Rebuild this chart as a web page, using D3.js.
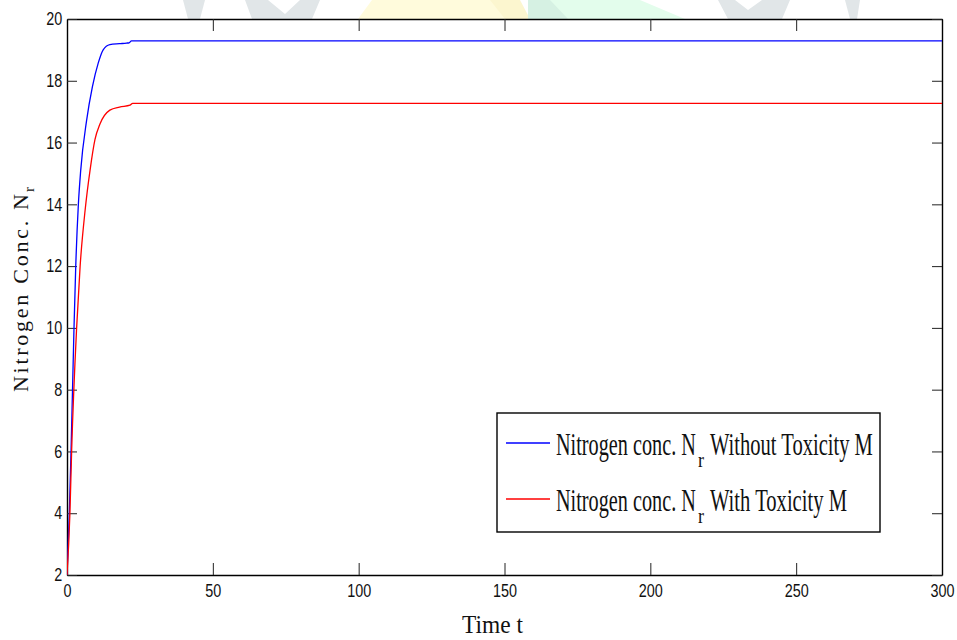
<!DOCTYPE html>
<meta charset="utf-8">
<style>
    body { margin: 0; background: #fff; }
    .axis path { stroke: #000; stroke-width: 1.4px; }
    .axis line { stroke: #222; stroke-width: 1px; }
    .axis text { font-family: "Liberation Sans", Arial, sans-serif; font-size: 18px; fill: #111; }
    .serif { font-family: "Liberation Serif", "Times New Roman", serif; fill: #111; }
</style>
<svg width="957" height="640"></svg>
<script src="https://cdn.jsdelivr.net/npm/d3@7"></script>
<script>
    // time values and nitrogen concentration
    let tBlue = [0, 0.8, 1.4, 2.4, 3.0, 3.9, 4.7, 6.7, 8.7, 10.7, 12.4, 14.7, 18, 20.4, 21.3, 22.1, 300];
    let nBlue = [2.0, 4.0, 6.05, 10.0, 12.0, 14.0, 15.1, 16.7, 17.8, 18.57, 19.0, 19.17, 19.2, 19.22, 19.23, 19.29, 19.29];
    let tRed = [0, 1.0, 1.6, 3.3, 4.5, 6.2, 7.9, 9.6, 11.3, 14.7, 18, 21.6, 22.5, 300];
    let nRed = [2.0, 4.0, 6.05, 10.0, 12.0, 13.8, 15.1, 16.1, 16.6, 17.05, 17.15, 17.21, 17.27, 17.27];

    let xTicks = [0, 50, 100, 150, 200, 250, 300];
    let yTicks = [2, 4, 6, 8, 10, 12, 14, 16, 18, 20];
    let legendLabels = ["Without Toxicity M", "With Toxicity M"];
    let seriesColors = ["#0000ff", "#ff0000"];

    let svg = d3.select("svg");
    let pL = 67, pR = 942, pT = 19, pB = 575;

    // squeeze a text horizontally so it spans the given width
    function fitText(parent, str, px, py, size, width) {
        let t = parent.append("text").attr("class", "serif")
            .attr("font-size", size).text(str);
        let w = t.node().getComputedTextLength();
        t.attr("transform", "translate(" + px + "," + py + ") scale(" + (width / w) + ",1)");
        return t;
    }

    // faint watermark shapes peeking out above the axes
    let wm = svg.append("g");
    wm.append("polygon").attr("points", "183,0 205,0 200,19 188,19").attr("fill", "#e1e6e8");
    wm.append("polygon").attr("points", "245,0 268,0 285,14 300,0 320,0 312,19 252,19").attr("fill", "#e1e6e8");
    wm.append("polygon").attr("points", "372,0 505,0 520,19 358,19").attr("fill", "#fffbdc");
    wm.append("polygon").attr("points", "490,0 520,0 530,19 505,19").attr("fill", "#fcf6cf");
    wm.append("polygon").attr("points", "528,0 640,0 685,19 528,19").attr("fill", "#e3fdec");
    wm.append("polygon").attr("points", "528,0 550,0 568,19 528,19").attr("fill", "#d6f1e3");
    wm.append("polygon").attr("points", "718,0 735,0 748,10 762,0 790,0 782,19 728,19").attr("fill", "#e1e6e8");
    wm.append("polygon").attr("points", "845,0 860,0 857,19 850,19").attr("fill", "#e1e6e8");

    svg.append("rect")
        .attr("x", pL).attr("y", pT)
        .attr("width", pR - pL).attr("height", pB - pT)
        .attr("fill", "#fff");

    let x = d3.scaleLinear().domain([0, 300]).range([pL, pR]);
    let y = d3.scaleLinear().domain([2, 20]).range([pB, pT]);

    let sx = 0.8;

    svg.append("g").attr("class", "axis")
        .attr("transform", "translate(0," + pB + ")")
        .call(d3.axisBottom(x).tickValues(xTicks).tickSize(-12).tickSizeOuter(0).tickPadding(6))
        .selectAll("text").attr("transform", "scale(" + sx + ",1)").attr("dy", "0.9em");

    svg.append("g").attr("class", "axis")
        .attr("transform", "translate(0," + pT + ")")
        .call(d3.axisTop(x).tickValues(xTicks).tickSize(-12).tickSizeOuter(0).tickFormat(""));

    svg.append("g").attr("class", "axis")
        .attr("transform", "translate(" + pL + ",0)")
        .call(d3.axisLeft(y).tickValues(yTicks).tickSize(-10).tickSizeOuter(0).tickPadding(6))
        .selectAll("text").attr("transform", "scale(" + sx + ",1)");

    svg.append("g").attr("class", "axis")
        .attr("transform", "translate(" + pR + ",0)")
        .call(d3.axisRight(y).tickValues(yTicks).tickSize(-10).tickSizeOuter(0).tickFormat(""));

    svg.append("clipPath").attr("id", "plot")
        .append("rect").attr("x", pL).attr("y", pT - 1)
        .attr("width", pR - pL).attr("height", pB - pT + 2);

    let line = d3.line()
        .x(d => x(d[0]))
        .y(d => y(d[1]))
        .curve(d3.curveMonotoneX);

    let series = [d3.zip(tBlue, nBlue), d3.zip(tRed, nRed)];

    svg.append("g").attr("clip-path", "url(#plot)")
        .selectAll("path")
        .data(series)
        .enter().append("path")
        .attr("d", line)
        .attr("fill", "none")
        .attr("stroke", (d, i) => seriesColors[i])
        .attr("stroke-width", 1.3);

    // legend
    let lg = svg.append("g");
    lg.append("rect")
        .attr("x", 497).attr("y", 413)
        .attr("width", 383).attr("height", 119)
        .attr("fill", "#fff").attr("stroke", "#000").attr("stroke-width", 1.4);

    let rowY = [443, 499];
    let tailLen = [163, 137];
    legendLabels.forEach((lab, i) => {
        lg.append("line")
            .attr("x1", 506).attr("x2", 550)
            .attr("y1", rowY[i]).attr("y2", rowY[i])
            .attr("stroke", seriesColors[i]).attr("stroke-width", 1.3);
        fitText(lg, "Nitrogen conc. N", 556, rowY[i] + 12, 32, 140);
        fitText(lg, "r", 698, rowY[i] + 24, 20, 6);
        fitText(lg, lab, 710, rowY[i] + 12, 32, tailLen[i]);
    });

    // axis titles
    fitText(svg, "Time t", 462, 633, 26, 61);

    let yl = svg.append("text").attr("class", "serif")
        .attr("transform", "translate(28,392) rotate(-90)")
        .attr("font-size", 22);
    yl.append("tspan")
        .attr("x", 0).attr("y", 0)
        .attr("textLength", 198).attr("lengthAdjust", "spacing")
        .text("Nitrogen Conc. N");
    yl.append("tspan")
        .attr("x", 200).attr("y", 6)
        .attr("font-size", 15)
        .text("r");
</script>
</html>
